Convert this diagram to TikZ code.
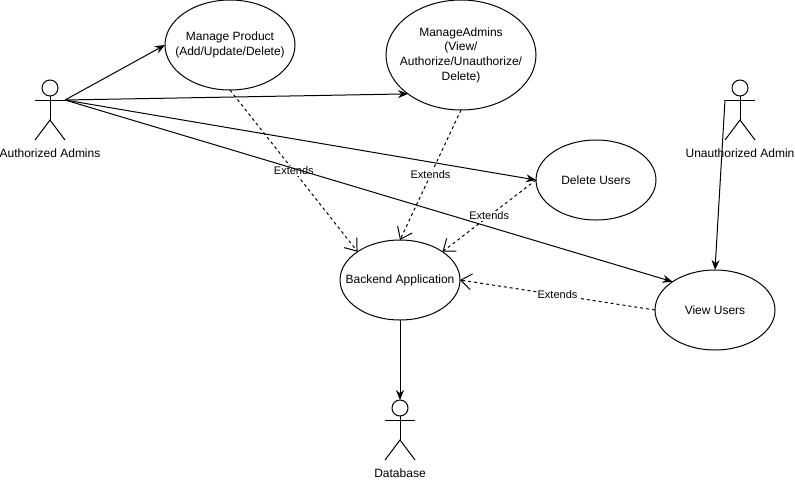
\documentclass[tikz,border=0pt]{standalone}
\usepackage{fontspec}
\setmainfont{Liberation Sans}
\usetikzlibrary{arrows.meta,shapes.geometric,calc}

\tikzset{
  usecase/.style={draw, ellipse, inner sep=-25pt, outer sep=0pt, align=center, font=\fontsize{9}{11}\selectfont},
  actorhead/.style={draw, circle, minimum size=12pt, inner sep=0pt, outer sep=0pt},
  caption/.style={font=\fontsize{9}{11}\selectfont, inner sep=0pt},
  extlabel/.style={font=\fontsize{8.25}{10}\selectfont, fill=white, inner sep=0.5pt},
  assoc/.style={-{Stealth[length=7.5pt,width=6pt]}},
  extends/.style={-{Straight Barb[length=8pt,width=12pt]}, dash pattern=on 2.25pt off 2.25pt}
}

\begin{document}
\begin{tikzpicture}[x=0.75pt, y=-0.75pt, line width=0.75pt]
    \useasboundingbox (0,0) rectangle (795,482);

    % First draw the use cases
    \node [usecase, minimum width=97.5pt, minimum height=67.5pt] (product) at (230,45)
      {Manage Product\\(Add/Update/Delete)};
    \node [usecase, minimum width=112.5pt, minimum height=82.5pt] (admins) at (461,55)
      {ManageAdmins\\(View/\\Authorize/Unauthorize/\\Delete)};
    \node [usecase, minimum width=90pt, minimum height=60pt] (delete) at (596,180) {Delete Users};
    \node [usecase, minimum width=90pt, minimum height=60pt] (backend) at (400,280) {Backend Application};
    \node [usecase, minimum width=90pt, minimum height=60pt] (view) at (715,310) {View Users};

    % Next, draw the actors
    \foreach \name/\x/\y/\txt in {authorized/50/88/Authorized Admins,
        unauthorized/740/88/Unauthorized Admin, database/400/408/Database} {
      \node [actorhead] (\name) at (\x,\y) {};
      \coordinate (\name-left) at (\x-15,\y+12);
      \coordinate (\name-right) at (\x+15,\y+12);
      \coordinate (\name-hip) at (\x,\y+32);
      \draw (\name-left) -- (\name-right);
      \draw (\name.south) -- (\name-hip);
      \draw (\x-15,\y+52) -- (\name-hip) -- (\x+15,\y+52);
      \node [caption] (\name-text) at (\x,\y+65) {\txt};
    }

    % The extends relations sit under the associations
    \draw[extends] (product.south) -- (backend.north west)
      node [extlabel, pos=0.5] (ext1) {Extends};
    \draw[extends] (admins.south) -- (backend.north)
      node [extlabel, pos=0.5] (ext2) {Extends};
    \draw[extends] (delete.west) -- (backend.north east)
      node [extlabel, pos=0.5] (ext3) {Extends};
    \draw[extends] (view.west) -- (backend.east)
      node [extlabel, pos=0.5] (ext4) {Extends};

    % Associations from the actors
    \foreach \target/\side in {product/west, admins/south west, delete/west, view/north west}
      \draw[assoc] (authorized-right) -- (\target.\side);
    \draw[assoc] (unauthorized-left) -- (view.north);
    \draw[assoc] (backend.south) -- (database.north);
\end{tikzpicture}
\end{document}
